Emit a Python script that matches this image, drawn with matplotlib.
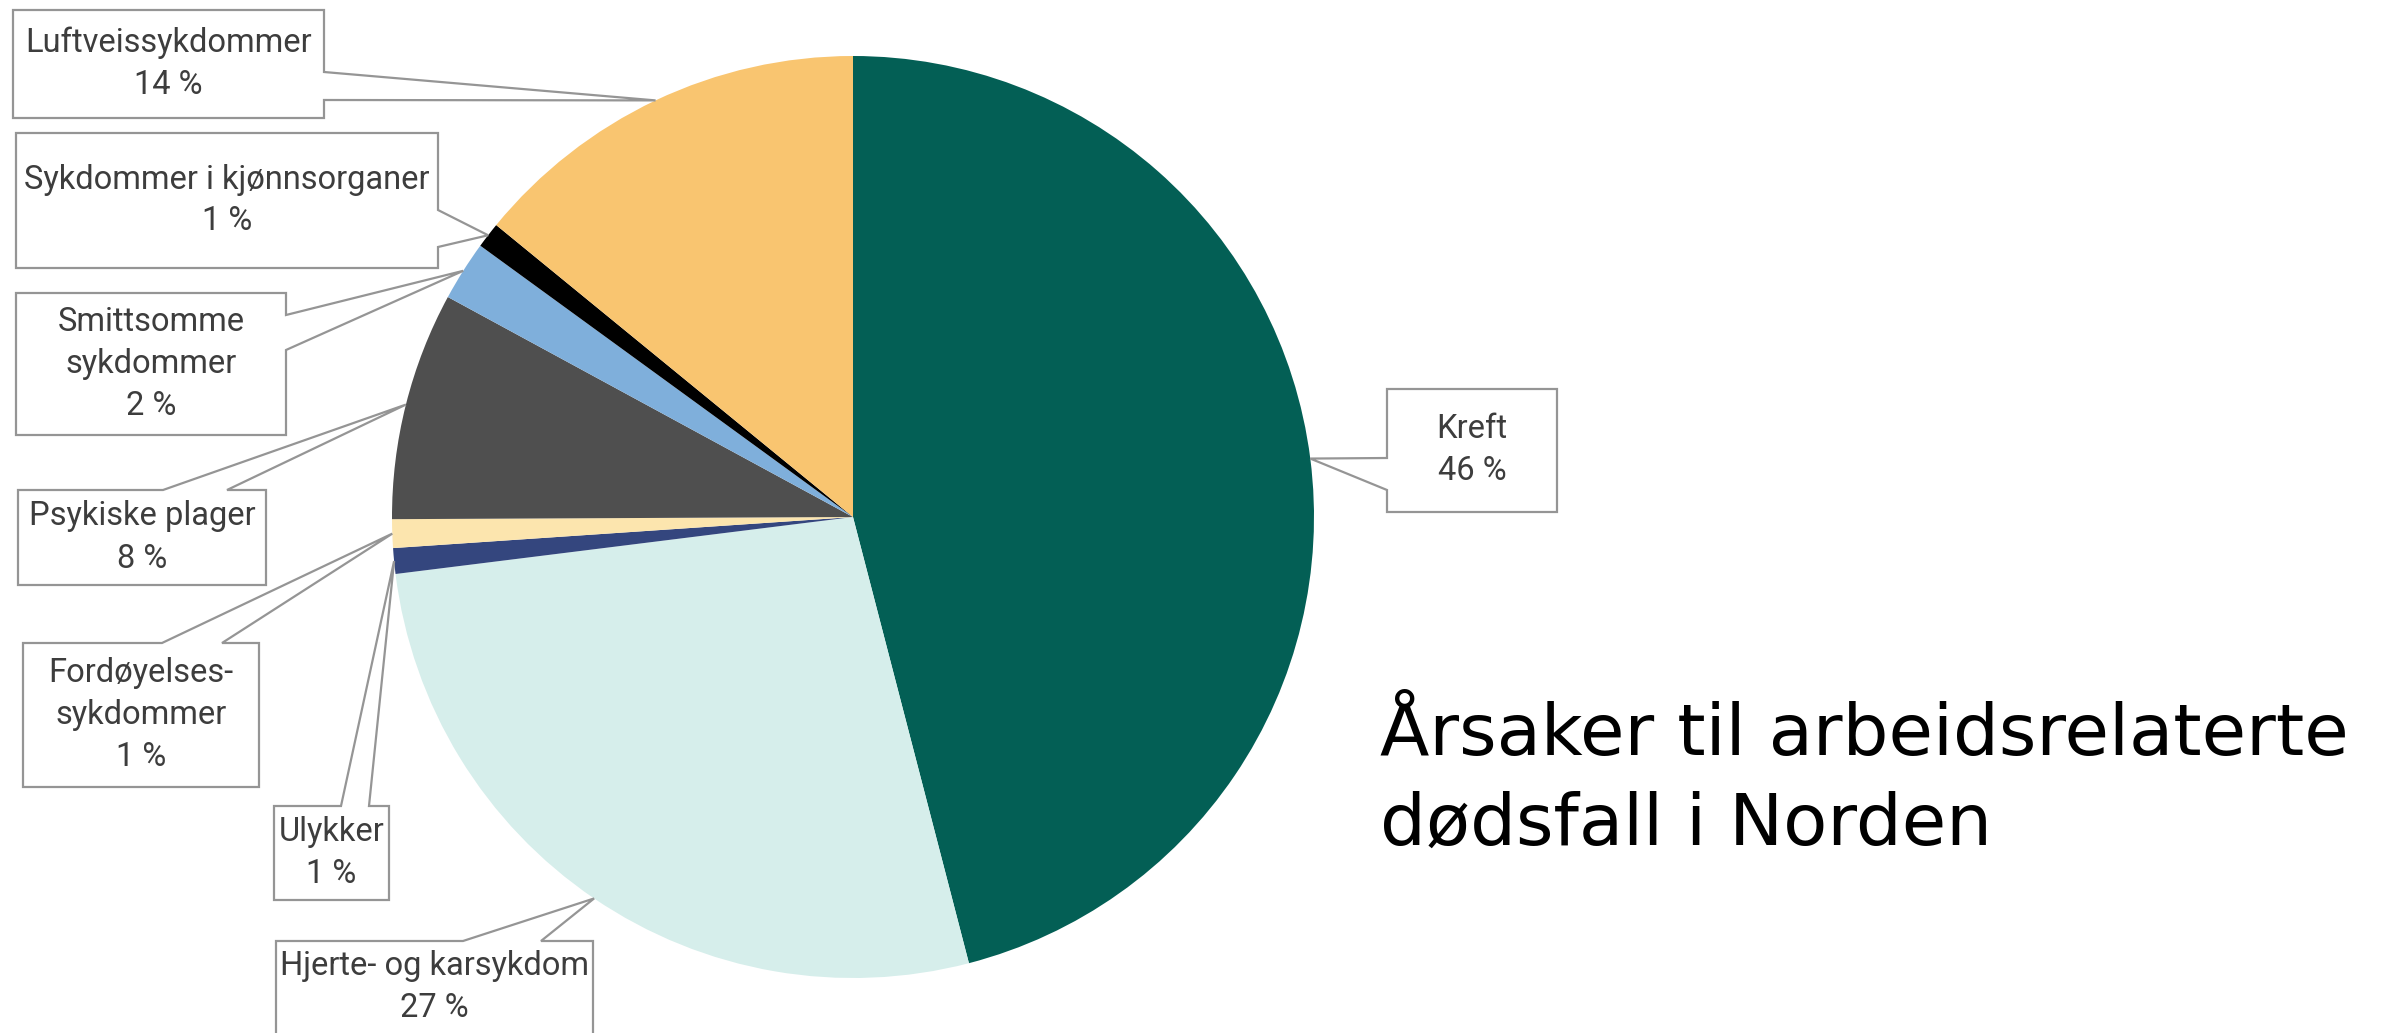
import numpy as np
import matplotlib.pyplot as plt
from matplotlib import font_manager
from matplotlib.patches import Polygon

# Årsaker til arbeidsrelaterte dødsfall (andel i %), med klokka fra toppen
kategorier = ["Kreft", "Hjerte- og karsykdom", "Ulykker", "Fordøyelses-\nsykdommer",
              "Psykiske plager", "Smittsomme\nsykdommer", "Sykdommer i kjønnsorganer",
              "Luftveissykdommer"]
andel = [46.0, 27.1, 0.9, 1.0, 8.0, 2.1, 0.9, 14.1]
farger = ["#035f55", "#d6eeeb", "#34467e", "#fce5ae", "#4f4f4f", "#7fafdb", "#000000", "#f9c570"]
tittel = ["Årsaker til arbeidsrelaterte", "dødsfall i Norden"]

# plassering av etikettboksene i piksler: x0, y0, x1, y1, side for pila, pilbase
bokser = [
    (1387, 389, 1557, 512, "left", 458, 490),
    (276, 941, 593, 1040, "top", 463, 541),
    (274, 806, 389, 900, "top", 341, 369),
    (23, 643, 259, 787, "top", 162, 222),
    (18, 490, 266, 585, "top", 163, 227),
    (16, 293, 286, 435, "right", 315, 350),
    (16, 133, 438, 268, "right", 210, 247),
    (13, 10, 324, 118, "right", 72, 100),
]

navn = {f.name for f in font_manager.fontManager.ttflist}
etikettfont = "Liberation Sans Narrow" if "Liberation Sans Narrow" in navn else "Roboto"

W, H = 2387, 1033
fig = plt.figure(figsize=(W / 100, H / 100), dpi=100)
fig.patch.set_facecolor("white")

cx, cy, r = 853, 517, 461
ax = fig.add_axes([(cx - r) / W, (H - cy - r) / H, 2 * r / W, 2 * r / H])
wedges, _ = ax.pie(andel, colors=farger, startangle=90, counterclock=False,
                   wedgeprops=dict(linewidth=0))
ax.set_xlim(-1, 1)
ax.set_ylim(-1, 1)
ax.set_aspect("equal")

ov = fig.add_axes([0, 0, 1, 1], zorder=5)
ov.set_xlim(0, W)
ov.set_ylim(H, 0)
ov.axis("off")
ov.patch.set_alpha(0)

for w, lab, v, b in zip(wedges, kategorier, andel, bokser):
    vinkel = np.deg2rad((w.theta1 + w.theta2) / 2)
    px, py = ax.transData.transform((np.cos(vinkel), np.sin(vinkel)))
    tip = (px, H - py)
    x0, y0, x1, y1, side, n0, n1 = b
    if side == "right":
        pts = [(x0, y0), (x1, y0), (x1, n0), tip, (x1, n1), (x1, y1), (x0, y1)]
    elif side == "left":
        pts = [(x0, y0), (x1, y0), (x1, y1), (x0, y1), (x0, n1), tip, (x0, n0)]
    else:
        pts = [(x0, y0), (n0, y0), tip, (n1, y0), (x1, y0), (x1, y1), (x0, y1)]
    ov.add_patch(Polygon(pts, closed=True, facecolor="white", edgecolor="#959595", lw=1.6))
    ytxt = (y0 + min(y1, H)) / 2
    ov.text((x0 + x1) / 2, ytxt, f"{lab}\n{round(v):.0f} %", ha="center", va="center",
            fontsize=23.5, family=etikettfont, color="#3d3d3d", linespacing=1.4)

ov.text(1380, 755, tittel[0], fontsize=52, family="DejaVu Sans", color="black", va="baseline")
ov.text(1380, 845, tittel[1], fontsize=52, family="DejaVu Sans", color="black", va="baseline")

fig.savefig("out.png", dpi=100, facecolor="white")
